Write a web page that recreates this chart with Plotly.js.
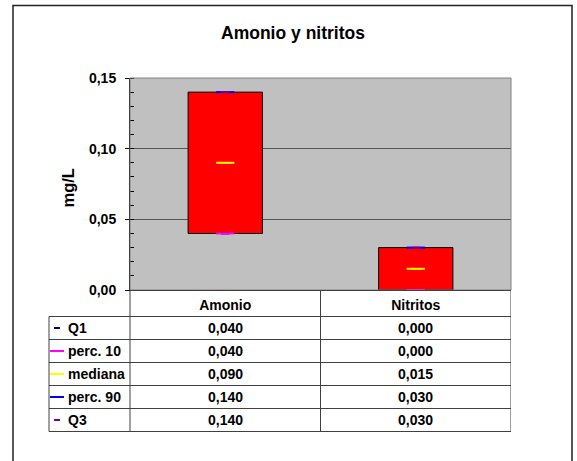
<!DOCTYPE html>
<html>
<head>
<meta charset="utf-8">
<script src="https://cdn.plot.ly/plotly-3.0.1.min.js"></script>
<style>html,body{margin:0;padding:0;background:#fff;}#chart{width:577px;height:461px;}</style>
</head>
<body>
<div id="chart"></div>
<script>
// ---- data ----
const categories = ['Amonio', 'Nitritos'];
const seriesNames = ['Q1', 'perc. 10', 'mediana', 'perc. 90', 'Q3'];
const q1 = [0.040, 0.000];
const perc10 = [0.040, 0.000];
const mediana = [0.090, 0.015];
const perc90 = [0.140, 0.030];
const q3 = [0.140, 0.030];
const yTickVals = [0, 0.05, 0.10, 0.15];

// ---- styles ----
const FONT = 'Liberation Sans, Arial, sans-serif';
const W = 577, H = 461;
const px = v => v / W;
const py = v => 1 - v / H;
const seriesValues = [q1, perc10, mediana, perc90, q3];
const seriesColors = ['#000080', '#FF00FF', '#FFFF00', '#0000FF', '#800080'];
const markerSizes = [6, 13, 13, 13, 6];
const legendDash = [[54, 60], [50, 64], [50, 64], [50, 64], [54, 60]];
const TXT = 14;

const traces = [];
traces.push({
  type: 'bar',
  x: categories,
  base: q1,
  y: q3.map((v, i) => v - q1[i]),
  width: 0.39,
  marker: {color: '#FF0000', line: {color: '#000000', width: 1}},
  hoverinfo: 'skip',
  showlegend: false
});
seriesValues.forEach((vals, k) => {
  traces.push({
    type: 'scatter',
    mode: 'markers',
    x: categories,
    y: vals,
    name: seriesNames[k],
    cliponaxis: false,
    marker: {symbol: 'line-ew', size: markerSizes[k], color: seriesColors[k],
             line: {color: seriesColors[k], width: 2}},
    showlegend: false
  });
});

// table geometry (pixels)
const headerTop = 290, headerBottom = 316.5, rowH = 23;
const tableLeft = 49, plotLeft = 130, plotRight = 511;
const tableBottom = headerBottom + rowH * seriesNames.length;
const lineColor = '#404040';

const shapes = [];
// outer border
shapes.push({type: 'rect', xref: 'paper', yref: 'paper', x0: px(13), x1: px(572), y0: -0.05, y1: py(5.5),
  line: {color: '#222', width: 1.5}, layer: 'below'});
// plot area border
shapes.push({type: 'rect', xref: 'x domain', yref: 'y domain', x0: 0, x1: 1, y0: 0, y1: 1,
  line: {color: '#808080', width: 1}, layer: 'above'});
// table horizontal lines
shapes.push({type: 'line', xref: 'paper', yref: 'paper', x0: px(tableLeft), x1: px(plotRight), y0: py(headerBottom), y1: py(headerBottom), line: {color: lineColor, width: 1}});
for (let r = 1; r <= seriesNames.length; r++) {
  const y = headerBottom + rowH * r;
  shapes.push({type: 'line', xref: 'paper', yref: 'paper', x0: px(tableLeft), x1: px(plotRight), y0: py(y), y1: py(y), line: {color: lineColor, width: 1}});
}
// table vertical lines
shapes.push({type: 'line', xref: 'paper', yref: 'paper', x0: px(tableLeft), x1: px(tableLeft), y0: py(headerBottom), y1: py(tableBottom), line: {color: lineColor, width: 1}});
shapes.push({type: 'line', xref: 'paper', yref: 'paper', x0: px(plotLeft), x1: px(plotLeft), y0: py(headerTop), y1: py(tableBottom), line: {color: lineColor, width: 1}});
[0.5, 1.5].forEach(xv => {
  shapes.push({type: 'line', xref: 'x', yref: 'paper', x0: xv, x1: xv, y0: py(headerTop), y1: py(tableBottom), line: {color: lineColor, width: 1}});
});
// legend dashes
seriesNames.forEach((n, k) => {
  const yc = headerBottom + rowH * (k + 0.5);
  shapes.push({type: 'line', xref: 'paper', yref: 'paper', x0: px(legendDash[k][0]), x1: px(legendDash[k][1]), y0: py(yc), y1: py(yc),
    line: {color: seriesColors[k], width: 2}});
});

const annotations = [];
const fmt = v => v.toFixed(3).replace('.', ',');
seriesNames.forEach((n, k) => {
  const yc = headerBottom + rowH * (k + 0.5);
  annotations.push({xref: 'paper', yref: 'paper', x: px(66), y: py(yc), xanchor: 'left', yanchor: 'middle',
    text: n, showarrow: false, font: {family: FONT, size: TXT, weight: 'bold', color: '#000'}});
  categories.forEach((c, i) => {
    annotations.push({xref: 'x', yref: 'paper', x: c, y: py(yc), xanchor: 'center', yanchor: 'middle',
      text: fmt(seriesValues[k][i]), showarrow: false, font: {family: FONT, size: TXT, weight: 'bold', color: '#000'}});
  });
});
// y-axis title
annotations.push({xref: 'paper', yref: 'paper', x: px(67.5), y: py(188), xanchor: 'center', yanchor: 'middle',
  text: 'mg/L', textangle: -90, showarrow: false, font: {family: FONT, size: 16.5, weight: 'bold', color: '#000'}});

const layout = {
  width: W, height: H, autosize: false,
  margin: {l: 0, r: 0, t: 0, b: 0},
  paper_bgcolor: '#FFFFFF',
  plot_bgcolor: '#C0C0C0',
  separators: ',.',
  showlegend: false,
  title: {text: 'Amonio y nitritos', font: {family: FONT, size: 17.5, weight: 'bold', color: '#000'},
    x: px(293), xanchor: 'center', y: py(33), yanchor: 'middle', xref: 'paper', yref: 'paper'},
  xaxis: {
    domain: [px(plotLeft), px(plotRight)],
    type: 'category', range: [-0.5, 1.5],
    showline: true, linecolor: '#000', linewidth: 1,
    ticks: '', showgrid: false, zeroline: false,
    tickfont: {family: FONT, size: TXT, weight: 'bold', color: '#000'},
    ticklabelstandoff: 2,
    fixedrange: true
  },
  yaxis: {
    domain: [py(headerTop), py(78)],
    range: [0, 0.15],
    tickvals: yTickVals, tickformat: '.2f',
    showline: true, linecolor: '#000', linewidth: 1,
    ticks: 'outside', ticklen: 4, tickcolor: '#000', tickwidth: 1,
    minor: {dtick: 0.01, ticks: 'inside', ticklen: 4, tickcolor: '#000', showgrid: false},
    showgrid: true, gridcolor: '#555555', gridwidth: 1,
    zeroline: false,
    tickfont: {family: FONT, size: 14, weight: 'bold', color: '#000'},
    ticklabelstandoff: 6,
    fixedrange: true
  },
  shapes: shapes,
  annotations: annotations,
  bargap: 0
};

Plotly.newPlot('chart', traces, layout, {displayModeBar: false, staticPlot: true});
</script>
</body>
</html>
